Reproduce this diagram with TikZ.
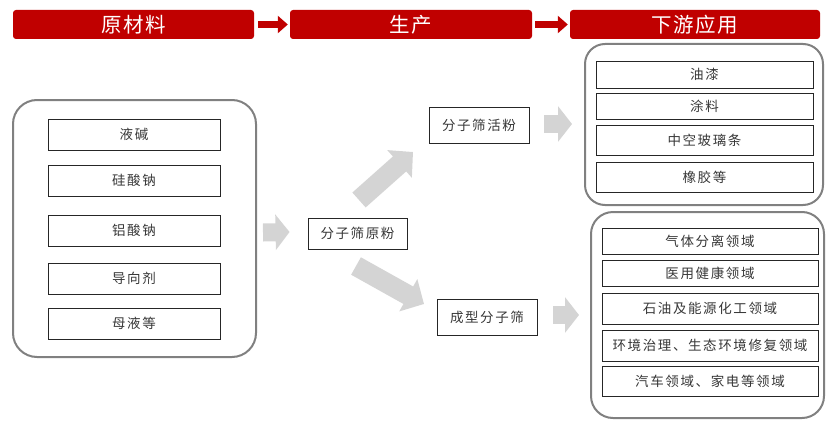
\documentclass[tikz,border=0pt]{standalone}
\usepackage{fontspec}
\setmainfont{Noto Sans CJK SC}
\newfontfamily\cjk[LetterSpace=12]{Noto Sans CJK SC}
\newfontfamily\cjkhead[LetterSpace=8]{Noto Sans CJK SC}
\usetikzlibrary{arrows.meta,calc}
\definecolor{headred}{RGB}{192,0,0}
\definecolor{arrowgray}{RGB}{212,212,212}
\definecolor{framegray}{RGB}{128,128,128}
\definecolor{textgray}{RGB}{55,55,55}
\tikzset{
  headbar/.style={fill=headred, draw=none, rounded corners=3pt, text=white,
    font=\cjkhead\fontsize{20.5}{20.5}\selectfont, minimum height=29pt, inner sep=0pt},
  headarrow/.style={draw=headred, line width=7pt,
    -{Triangle[length=10pt,width=17pt]}},
  group/.style={draw=framegray, line width=2pt, rounded corners=24pt, inner sep=0pt},
  item/.style={draw=black!85, line width=0.9pt, text=textgray, inner sep=0pt,
    font=\cjk\fontsize{13.5}{13.5}\selectfont},
  blockarrow/.style={draw=arrowgray, line width=18pt,
    -{Triangle[length=14pt,width=35pt]}},
  diagarrow/.style={draw=arrowgray, line width=20pt,
    -{Triangle[length=18pt,width=36pt]}},
}
\begin{document}
\begin{tikzpicture}[x=1pt,y=-1pt]
\useasboundingbox (0,0) rectangle (826,420);

% stage headers
\node[headbar, minimum width=241pt] (h1) at (133.5,24.5) {原材料};
\node[headbar, minimum width=242pt] (h2) at (411,24.5) {生产};
\node[headbar, minimum width=250pt] (h3) at (695,24.5) {下游应用};
\draw[headarrow] ($(h1.east)+(4,0)$) -- ($(h2.west)+(-2,0)$);
\draw[headarrow] ($(h2.east)+(3,0)$) -- ($(h3.west)+(-2,0)$);

% raw materials
\node[group, minimum width=243pt, minimum height=257pt] (raw) at (134.5,228.5) {};
\node[item, minimum width=172pt, minimum height=31pt] (r1) at (134,134.5) {液碱};
\node[item, minimum width=172pt, minimum height=31pt] (r2) at (134,180.5) {硅酸钠};
\node[item, minimum width=172pt, minimum height=31pt] (r3) at (134,230.5) {铝酸钠};
\node[item, minimum width=172pt, minimum height=31pt] (r4) at (134,278.5) {导向剂};
\node[item, minimum width=172pt, minimum height=31pt] (r5) at (134,323.5) {母液等};

% production
\node[item, minimum width=99pt, minimum height=31pt] (yuanfen) at (357.5,233.5) {分子筛原粉};
\node[item, minimum width=100pt, minimum height=36pt] (huofen) at (479,125) {分子筛活粉};
\node[item, minimum width=100pt, minimum height=36pt] (chengxing) at (487,317) {成型分子筛};

% downstream: powder
\node[group, rounded corners=20pt, minimum width=238pt, minimum height=161pt] (appA) at (704,124.5) {};
\node[item, minimum width=217pt, minimum height=27pt] (a1) at (704.5,74.5) {油漆};
\node[item, minimum width=217pt, minimum height=26pt] (a2) at (704.5,106) {涂料};
\node[item, minimum width=217pt, minimum height=30pt] (a3) at (704.5,140) {中空玻璃条};
\node[item, minimum width=217pt, minimum height=30pt] (a4) at (704.5,177) {橡胶等};

% downstream: shaped sieve
\node[group, rounded corners=22pt, minimum width=233pt, minimum height=206pt] (appB) at (707.5,315) {};
\node[item, minimum width=216pt, minimum height=26pt] (b1) at (710,241) {气体分离领域};
\node[item, minimum width=216pt, minimum height=26pt] (b2) at (710,273) {医用健康领域};
\node[item, minimum width=216pt, minimum height=31pt] (b3) at (710,308.5) {石油及能源化工领域};
\node[item, minimum width=216pt, minimum height=31pt] (b4) at (710,345.5) {环境治理、生态环境修复领域};
\node[item, minimum width=216pt, minimum height=30pt] (b5) at (710,381) {汽车领域、家电等领域};

% flow arrows
\coordinate (upTail) at (359,200);
\coordinate (upTip) at (413,152);
\coordinate (dnTail) at (356,266);
\coordinate (dnTip) at (424,304);
\draw[blockarrow] ($(raw.east)+(6,4)$) -- ($(yuanfen.west)+(-18,-1.5)$);
\draw[diagarrow] (upTail) -- (upTip);
\draw[diagarrow] (dnTail) -- (dnTip);
\draw[blockarrow] ($(huofen.east)+(15,-1)$) -- ($(appA.west |- huofen.east)+(-12,-1)$);
\draw[blockarrow] ($(chengxing.east)+(16,-2)$) -- ($(appB.west |- chengxing.east)+(-11,-2)$);
\end{tikzpicture}
\end{document}
